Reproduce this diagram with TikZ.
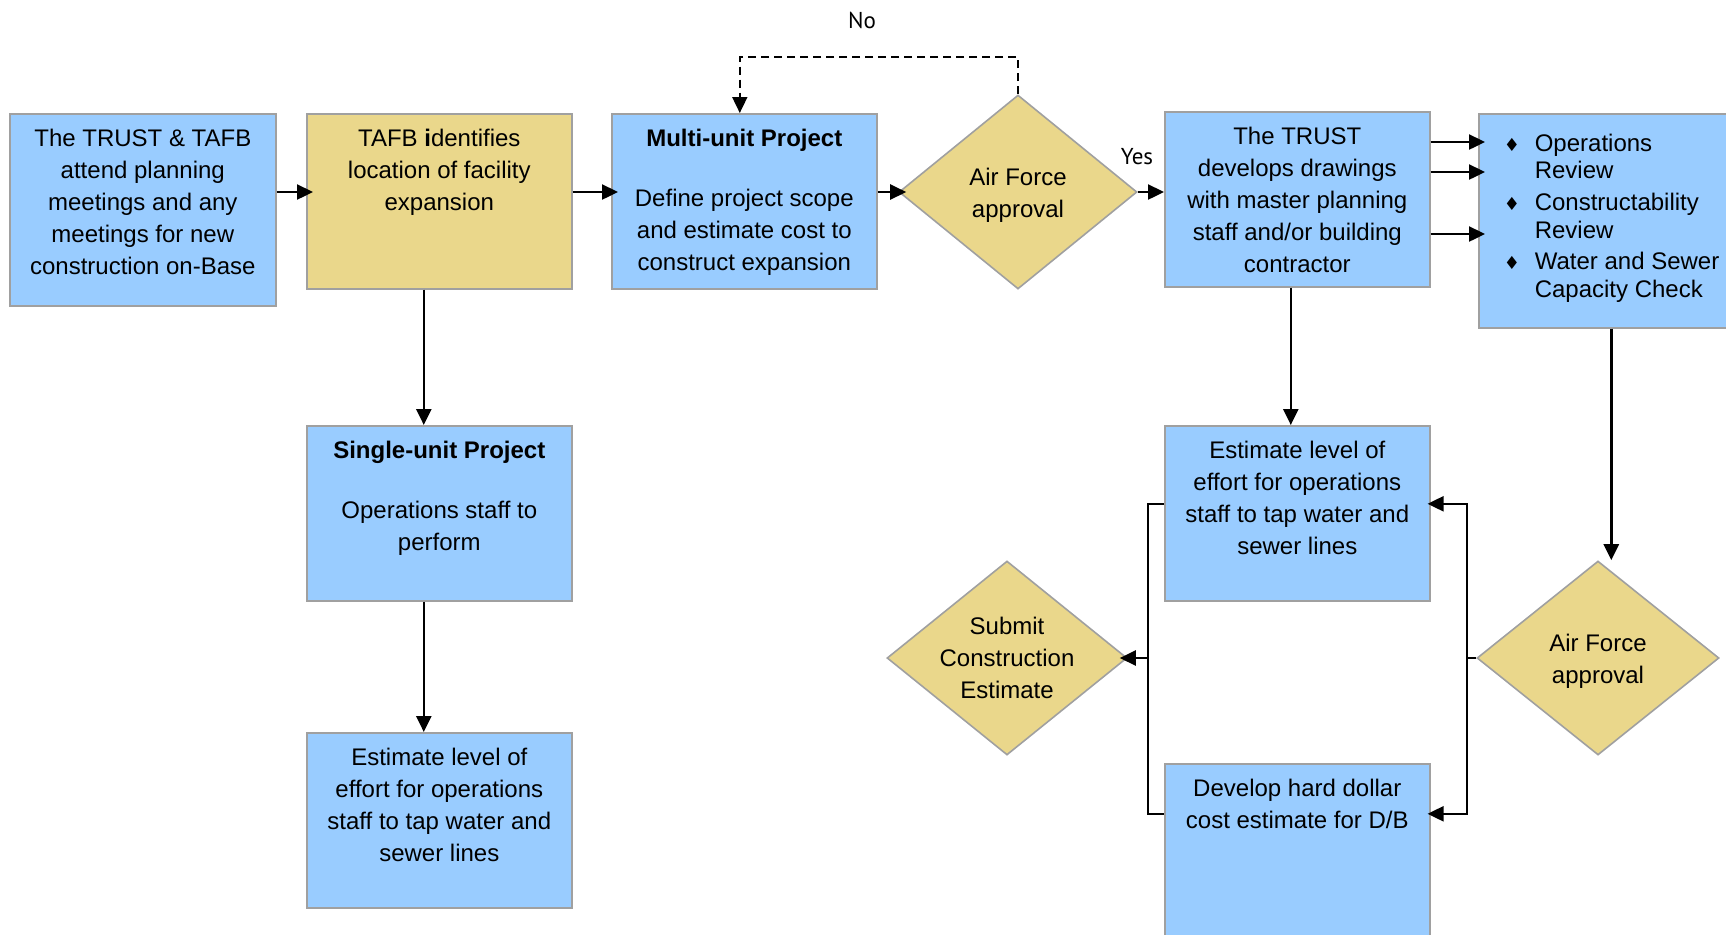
\documentclass[tikz,border=0pt]{standalone}
\usepackage{fontspec}
\setmainfont{Liberation Sans}
\newfontfamily\yesnofont{PT Sans}
\newfontfamily\symfont{DejaVu Sans}
\usetikzlibrary{shapes.geometric,arrows.meta}

\definecolor{boxblue}{RGB}{153,204,255}
\definecolor{boxtan}{RGB}{234,215,139}
\definecolor{boxedge}{RGB}{160,160,160}

% top aligned text inside a box of fixed size
\newcommand{\boxtext}[3]{\parbox[t][#2][t]{#1}{\centering\rule{0pt}{16.5pt}#3}}
\newcommand{\bul}{\makebox[15.5pt][l]{\symfont\fontsize{9pt}{9pt}\selectfont ♦}}
\newcommand{\dstrut}{\rule{0pt}{12pt}}

\begin{document}
\begin{tikzpicture}[x=0.5pt,y=-0.5pt,font=\fontsize{12pt}{16pt}\selectfont,
  basebox/.style={draw=boxedge,line width=0.8pt,inner sep=0pt,anchor=north west},
  bluebox/.style={basebox,fill=boxblue},
  tanbox/.style={basebox,fill=boxtan},
  decision/.style={diamond,aspect=1.25,draw=boxedge,line width=0.8pt,fill=boxtan,inner sep=0pt,
    align=center,minimum width=119pt,minimum height=97pt},
  yesno/.style={font=\yesnofont\fontsize{11.5pt}{14pt}\selectfont},
  arr/.style={line width=1.2pt,-{Triangle[length=8pt,width=7.5pt]}},
  into/.style={arr,shorten >=-3.5pt},
  link/.style={line width=1.2pt}]

\clip (0,0) rectangle (1726,934);

% top row
\node[bluebox] (meet) at (9,113) {\boxtext{133pt}{96pt}{The TRUST \& TAFB\\attend planning\\meetings and any\\meetings for new\\construction on-Base}};
\node[tanbox] (locate) at (306,113) {\boxtext{132.5pt}{87.5pt}{TAFB \textbf{i}dentifies\\location of facility\\expansion}};
\node[bluebox] (multi) at (611,113) {\boxtext{132.5pt}{87.5pt}{\textbf{Multi-unit Project}\\[13.7pt]Define project scope\\and estimate cost to\\construct expansion}};
\node[decision] (approve) at (1018,192) {\dstrut Air Force\\approval};
\node[bluebox] (drawings) at (1164,111) {\boxtext{132.5pt}{87.5pt}{The TRUST\\develops drawings\\with master planning\\staff and/or building\\contractor}};
\node[bluebox] (reviews) at (1478,113) {\parbox[t][107pt][t]{132.5pt}{\raggedright\fontsize{12pt}{13.9pt}\selectfont
  \rule{0pt}{18.6pt}\hspace*{12.5pt}\bul Operations\\
  \hspace*{28pt}Review\\[1.8pt]
  \hspace*{12.5pt}\bul Constructability\\
  \hspace*{28pt}Review\\[1.8pt]
  \hspace*{12.5pt}\bul Water and Sewer\\
  \hspace*{28pt}Capacity Check}};

% lower rows
\node[bluebox] (single) at (306,425) {\boxtext{132.5pt}{87.5pt}{\textbf{Single-unit Project}\\[13.7pt]Operations staff to\\perform}};
\node[bluebox] (tapL) at (306,732) {\boxtext{132.5pt}{87.5pt}{Estimate level of\\effort for operations\\staff to tap water and\\sewer lines}};
\node[bluebox] (tapR) at (1164,425) {\boxtext{132.5pt}{87.5pt}{Estimate level of\\effort for operations\\staff to tap water and\\sewer lines}};
\node[bluebox] (dollar) at (1164,763) {\boxtext{132.5pt}{87.5pt}{Develop hard dollar\\cost estimate for D/B}};
\node[decision,minimum width=120pt] (submit) at (1007,658) {Submit\\Construction\\Estimate};
\node[decision,minimum width=121pt] (approve2) at (1598,658) {\dstrut Air Force\\approval};

\node[yesno] (yes) at (1137,157) {Yes};
\node[yesno] (no) at (862,20) {No};

% connectors
\draw[into] (meet.east |- 0,192) -- (locate.west |- 0,192);
\draw[into] (locate.east |- 0,192) -- (multi.west |- 0,192);
\draw[arr,shorten >=-4pt] (multi.east |- approve.west) -- (approve.west);
\draw[arr] (approve.east) -- (drawings.west |- approve.east);
\coordinate (noturn) at (1018,57);
\draw[arr,line width=0.9pt,dash pattern=on 4pt off 2.5pt] (approve.north) -- (noturn) -| ([xshift=-2.25pt]multi.north);

\draw[arr] ([xshift=-7.75pt]locate.south) -- ([xshift=-7.75pt]single.north);
\draw[arr] ([xshift=-7.75pt]single.south) -- ([xshift=-7.75pt]tapL.north);
\draw[arr] ([xshift=-3.25pt]drawings.south) -- ([xshift=-3.25pt]tapR.north);

\foreach \yy in {142,172,234}
  \draw[into] (drawings.east |- 0,\yy) -- (reviews.west |- 0,\yy);
\draw[arr] (reviews.south) -- (reviews.south |- approve2.north);

\coordinate (splitR) at (1467,658);
\draw[link] (approve2.west) -- (splitR);
\draw[arr,shorten >=-1.5pt] (splitR) |- ([yshift=4.75pt]tapR.east);
\draw[arr,shorten >=-1.5pt] (splitR) |- ([yshift=18.75pt]dollar.east);

\coordinate (joinL) at (1148,658);
\draw[link] ([yshift=4.75pt]tapR.west) -| (joinL) |- ([yshift=18.75pt]dollar.west);
\draw[arr,shorten >=-4pt] (joinL) -- (submit.east);

\end{tikzpicture}
\end{document}
